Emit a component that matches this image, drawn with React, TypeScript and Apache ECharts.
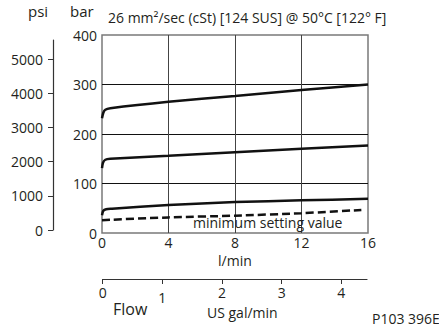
import React, { useEffect, useRef } from "react";
import * as echarts from "echarts";

// flow in l/min, pressure in bar
const flowTicks = [0, 4, 8, 12, 16];
const barTicks = [0, 100, 200, 300, 400];
const psiTicks = [0, 1000, 2000, 3000, 4000, 5000];
const galTicks = [0, 1, 2, 3, 4];

const curveHigh: [number, number][] = [[0, 232], [0.08, 243], [0.2, 249], [0.5, 252], [4, 265], [8, 277], [12, 289], [16, 300]];
const curveMid: [number, number][] = [[0, 131], [0.06, 142], [0.2, 148], [0.5, 150], [4, 156], [8, 163], [12, 170], [16, 177]];
const curveLow: [number, number][] = [[0, 36], [0.08, 45], [0.25, 48], [0.6, 49], [4, 56.5], [8, 62.5], [12, 66], [16, 69]];
const curveMinSetting: [number, number][] = [[0, 26], [4, 31.5], [8, 35], [12, 40], [15.6, 46.5]];

const FONT = "Open Sans";
const TXT = "#231f20";

export default function App() {
  const ref = useRef<HTMLDivElement>(null);
  useEffect(() => {
    const chart = echarts.init(ref.current!, null, { renderer: "svg" });
    const lineSeries = (data: [number, number][], dashed = false) => ({
      type: "line",
      xAxisIndex: 0,
      yAxisIndex: 0,
      data,
      smooth: 0.25,
      symbol: "none",
      lineStyle: { color: "#111", width: 2.5, type: dashed ? [8, 4] : "solid" },
      z: 5,
    });
    chart.setOption({
      animation: false,
      textStyle: { fontFamily: FONT },
      grid: [
        { left: 102, top: 35, width: 266, height: 198, show: true, borderColor: "#7a7a7a", borderWidth: 1.5 },
        { left: 53, top: 40, width: 10, height: 190 },
        { left: 102.7, top: 269, width: 264.3, height: 10 },
      ],
      xAxis: [
        {
          gridIndex: 0, type: "value", min: 0, max: 16, interval: 4,
          axisLine: { show: false }, axisTick: { show: false },
          axisLabel: { margin: 3, fontSize: 14, lineHeight: 12, color: TXT, fontFamily: FONT, customValues: flowTicks },
          splitLine: { show: true, showMinLine: false, showMaxLine: false, lineStyle: { color: "#444", width: 1 } },
        },
        { gridIndex: 1, type: "value", show: false },
        {
          gridIndex: 2, type: "value", min: 0, max: 4.43, interval: 1,
          axisLine: { show: true, lineStyle: { color: "#333", width: 1.2 } },
          axisTick: { show: true, length: 5, customValues: galTicks, lineStyle: { color: "#333" } },
          axisLabel: {
            margin: 6, fontSize: 14, color: TXT, fontFamily: FONT, customValues: galTicks,
            interval: 0, hideOverlap: false,
            formatter: (v: number) => (v === 1 ? "{low|1}" : String(v)),
            rich: { low: { padding: [5, 0, 0, 0], fontSize: 14, color: TXT, fontFamily: FONT } },
          },
          splitLine: { show: false },
        },
      ],
      yAxis: [
        {
          gridIndex: 0, type: "value", min: 0, max: 400, interval: 100,
          axisLine: { show: false }, axisTick: { show: false },
          axisLabel: { margin: 5, fontSize: 14, color: TXT, fontFamily: FONT, customValues: barTicks },
          splitLine: { show: true, showMinLine: false, showMaxLine: false, lineStyle: { color: "#111", width: 1 } },
        },
        {
          gridIndex: 1, type: "value", min: 0, max: 5565, interval: 1000, position: "left",
          axisLine: { show: true, lineStyle: { color: "#333", width: 1.2 } },
          axisTick: { show: true, length: 5, customValues: psiTicks, lineStyle: { color: "#333" } },
          axisLabel: { margin: 10, fontSize: 14, color: TXT, fontFamily: FONT, customValues: psiTicks, formatter: (v: number) => String(v) },
          splitLine: { show: false },
        },
        { gridIndex: 2, type: "value", show: false },
      ],
      series: [
        lineSeries(curveHigh),
        lineSeries(curveMid),
        lineSeries(curveLow),
        lineSeries(curveMinSetting, true),
      ],
      graphic: [
        { type: "text", left: 28, top: 3, style: { text: "psi", fontSize: 15, fill: TXT, fontFamily: FONT } },
        { type: "text", left: 70, top: 3, style: { text: "bar", fontSize: 15, fill: TXT, fontFamily: FONT } },
        { type: "text", left: 108, top: 10, style: { text: "26 mm²/sec (cSt) [124 SUS] @ 50°C [122° F]", fontSize: 14, fill: TXT, fontFamily: FONT } },
        { type: "text", left: 193, top: 215, z: 10, style: { text: "minimum setting value", fontSize: 14, fill: TXT, fontFamily: FONT } },
        { type: "text", left: 218, top: 253, style: { text: "l/min", fontSize: 14, lineHeight: 13, fill: TXT, fontFamily: FONT } },
        { type: "text", left: 113, top: 301, style: { text: "Flow", fontSize: 16, fill: TXT, fontFamily: FONT } },
        { type: "text", left: 207, top: 305, style: { text: "US gal/min", fontSize: 14, fill: TXT, fontFamily: FONT } },
        { type: "text", left: 372, top: 311, style: { text: "P103 396E", fontSize: 14, fill: TXT, fontFamily: FONT } },
      ],
    });
    return () => chart.dispose();
  }, []);
  return <div ref={ref} style={{ position: "fixed", left: 0, top: 0, width: 439, height: 328, background: "#fff" }} />;
}
